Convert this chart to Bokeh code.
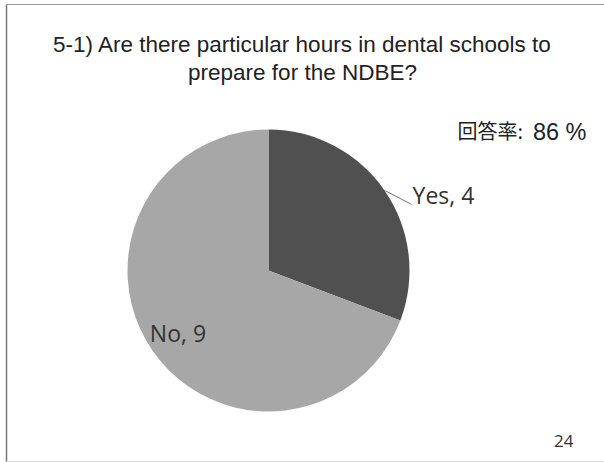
import math
from bokeh.plotting import figure
from bokeh.models import Range1d
from bokeh.core.properties import value
from bokeh.embed import file_html
from bokeh.resources import INLINE

# ---- data ----
categories = ["Yes", "No"]
counts = [4, 9]
colors = ["#505050", "#a7a7a7"]
title_lines = ["5-1) Are there particular hours in dental schools to",
               "prepare for the NDBE?"]
rate_label = "回答率:"
rate_value = "86 %"
page_number = "24"

W, H = 604, 462
p = figure(width=W, height=H, output_backend="svg", toolbar_location=None,
           x_range=Range1d(0, W), y_range=Range1d(0, H),
           x_axis_location=None, y_axis_location=None, min_border=0)
p.grid.visible = False
p.outline_line_color = None
p.background_fill_color = "white"
p.border_fill_color = "white"

def Y(page_y):
    return H - page_y

# slide border
p.line(x=[6, 6], y=[Y(462), Y(4)], line_color="#777777", line_width=1.5)
p.line(x=[6, 604], y=[Y(4), Y(4)], line_color="#999999", line_width=1.2)
p.line(x=[6, 604], y=[Y(461), Y(461)], line_color="#e2e2e2", line_width=1)

# title
for i, t in enumerate(title_lines):
    p.text(x=[302], y=[Y(44 + i * 28)], text=[t], text_font=value("Liberation Sans"),
           text_font_size="22.5px", text_align="center", text_baseline="middle",
           text_color="#222222")

p.text(x=[457], y=[Y(130)], text=[rate_label], text_font=value("Noto Sans CJK JP"),
       text_font_size="20px", text_align="left", text_baseline="middle",
       text_color="#222222")
p.text(x=[586], y=[Y(131)], text=[rate_value], text_font=value("Liberation Sans"),
       text_font_size="23.5px", text_align="right", text_baseline="middle",
       text_color="#222222")

p.text(x=[573], y=[Y(440)], text=[page_number], text_font=value("Open Sans"),
       text_font_size="17px", text_align="right", text_baseline="middle",
       text_color="#333333")

# pie
cx, cy, r = 268, Y(270), 141
total = sum(counts)
start = math.pi / 2
starts, ends, mids = [], [], []
for c in counts:
    sweep = 2 * math.pi * c / total
    starts.append(start)
    ends.append(start - sweep)
    mids.append(start - sweep / 2)
    start -= sweep

p.wedge(x=[cx] * len(counts), y=[cy] * len(counts), radius=r,
        start_angle=starts, end_angle=ends, direction="clock",
        fill_color=colors, line_color=None)

# Yes label with leader line (outside)
m = mids[0]
sx, sy = cx + r * math.cos(m), cy + r * math.sin(m)
ex, ey = sx + 27, sy - 14
p.line(x=[sx, ex], y=[sy, ey], line_color="#777777", line_width=1)
p.text(x=[ex + 1], y=[ey + 9], text=[f"{categories[0]}, {counts[0]}"],
       text_font=value("Open Sans"), text_font_size="23px",
       text_align="left", text_baseline="middle", text_color="#333333")

# No label (inside)
m = mids[1]
lx, ly = cx + 0.78 * r * math.cos(m), cy + 0.78 * r * math.sin(m)
p.text(x=[lx], y=[ly], text=[f"{categories[1]}, {counts[1]}"],
       text_font=value("Open Sans"), text_font_size="23px",
       text_align="center", text_baseline="middle", text_color="#333333")

open("out.html", "w").write(file_html(p, INLINE))
